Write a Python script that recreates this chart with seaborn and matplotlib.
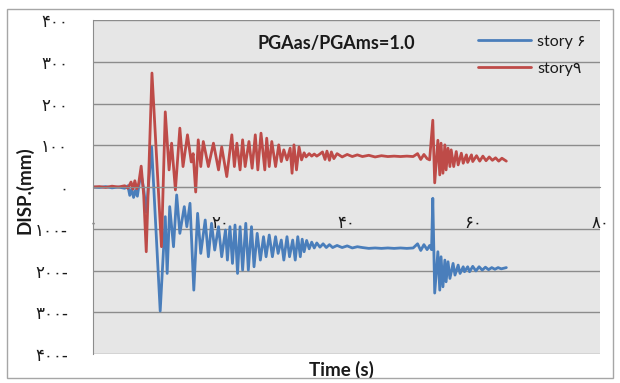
import numpy as np
import pandas as pd
import matplotlib
matplotlib.use("Agg")
import matplotlib.pyplot as plt
from matplotlib.patches import Rectangle
import seaborn as sns

# Values (time in s, displacement in mm), turning points only
story6 = [(0, 0), (1, -1), (2, 1), (3, -2), (4, 0), (5, -3), (5.5, 3), (5.8, -20), (6.1, -5),
          (6.4, -25), (6.7, -8), (7.0, -22), (7.3, 10), (7.6, 29), (8.0, -5), (8.4, -60),
          (9.25, 96), (10.6, -297), (11.4, -71), (11.7, -207), (12.1, -47), (12.7, -143),
          (13.2, -19), (13.7, -111), (14.4, -47), (14.8, -95), (15.3, -39), (15.9, -247),
          (16.5, -63), (17.0, -159), (17.7, -79), (18.2, -167), (18.7, -87), (19.2, -151),
          (19.8, -95), (20.3, -167), (20.9, -103), (21.2, -175), (21.6, -95), (22.0, -183),
          (22.4, -91), (22.8, -207), (23.2, -95), (23.6, -199), (24.1, -87), (24.5, -199),
          (25.0, -95), (25.4, -191), (25.9, -111), (26.4, -175), (26.9, -119), (27.3, -167),
          (27.8, -115), (28.3, -167), (28.8, -119), (29.2, -159), (29.7, -127), (30.1, -175),
          (30.6, -119), (31.0, -167), (31.5, -127), (31.9, -175), (32.3, -119), (32.7, -167),
          (33.0, -125), (33.3, -155), (33.7, -128), (34.1, -148), (34.5, -132), (34.9, -146),
          (35.3, -134), (35.8, -144), (36.3, -136), (36.8, -145), (37.3, -138), (37.8, -145),
          (38.5, -140), (39.3, -145), (40.1, -141), (40.9, -146), (41.7, -143), (42.5, -145),
          (43.5, -147), (44.5, -146), (45.5, -147), (46.5, -146), (47.5, -147), (48.5, -146),
          (49.5, -147), (50.5, -146), (51.2, -136), (51.7, -152), (52.2, -138), (52.7, -150),
          (53.1, -140), (53.4, -150), (53.6, -27), (53.9, -254), (54.4, -155), (54.7, -247),
          (54.9, -167), (55.2, -239), (55.5, -175), (55.7, -227), (56.0, -179), (56.3, -219),
          (56.8, -183), (57.1, -211), (57.6, -187), (57.9, -207), (58.4, -191), (58.6, -203),
          (59.1, -191), (59.4, -203), (59.9, -190), (60.4, -201), (60.9, -191), (61.4, -199),
          (61.9, -192), (62.4, -198), (62.9, -193), (63.4, -197), (63.9, -193), (64.4, -196),
          (65.2, -193)]

story9 = [(0, 0), (1, 1), (2, -1), (3, 2), (4, 0), (5, 3), (5.5, -3), (6.0, 12), (6.3, -5),
          (6.6, 15), (6.9, -4), (7.2, 8), (7.6, 50), (8.0, -20), (8.4, -155), (9.3, 273),
          (10.8, -143), (11.4, 180), (12.0, 41), (12.4, 105), (13.0, -7), (13.7, 141),
          (14.2, 49), (14.9, 125), (15.5, 60), (15.8, 80), (16.2, -12), (16.6, 113), (17.0, 49),
          (17.4, 109), (18.2, 49), (19.0, 105), (19.8, 41), (20.3, 96), (21.1, 25), (21.9, 125),
          (22.3, 49), (22.7, 105), (23.2, 41), (23.6, 113), (24.0, 49), (24.6, 109), (25.1, 45),
          (25.6, 125), (26.0, 41), (26.5, 129), (27.1, 41), (27.4, 117), (27.8, 49), (28.2, 109),
          (28.8, 49), (29.3, 101), (29.7, 61), (30.1, 89), (30.6, 65), (31.1, 93), (31.4, 33),
          (31.7, 101), (32.1, 41), (32.5, 96), (32.9, 65), (33.3, 82), (33.6, 72), (34.1, 80),
          (34.5, 74), (34.9, 79), (35.3, 74), (35.7, 78), (36.2, 84), (36.6, 66), (36.9, 86),
          (37.3, 64), (37.6, 84), (38.0, 68), (38.5, 80), (39.3, 72), (40.1, 78), (40.9, 73),
          (41.7, 77), (42.5, 73), (43.5, 76), (44.5, 72), (45.5, 75), (46.5, 73), (47.5, 74),
          (48.5, 73), (49.5, 74), (50.5, 73), (51.2, 80), (51.7, 66), (52.2, 78), (52.7, 68),
          (53.1, 65), (53.6, 160), (53.9, 10), (54.4, 112), (54.7, 29), (54.9, 105), (55.2, 33),
          (55.5, 101), (55.7, 41), (56.0, 93), (56.3, 49), (56.5, 89), (56.9, 49), (57.3, 85),
          (57.6, 53), (58.1, 81), (58.4, 57), (58.9, 77), (59.1, 59), (59.7, 77), (59.9, 61),
          (60.5, 75), (61.0, 62), (61.5, 74), (62.0, 63), (62.5, 72), (63.0, 64), (63.5, 70),
          (64.0, 62), (64.5, 69), (65.2, 62)]

x_ticks = [0, 20, 40, 60, 80]
x_labels = ["۰", "۲۰", "۴۰", "۶۰", "۸۰"]
y_ticks = [400, 300, 200, 100, 0, -100, -200, -300, -400]
y_labels = ["۴۰۰", "۳۰۰", "۲۰۰", "۱۰۰", "۰", "۱۰۰-", "۲۰۰-", "۳۰۰-", "۴۰۰-"]
series_names = ["story ۶", "story۹"]

sns.set_style("white")
plt.rcParams["font.family"] = ["Lato", "DejaVu Sans"]

blue = "#4A7EBB"
red = "#BE4B48"
grid_col = "#8C8C8C"
txt = "#1A1A1A"

fig = plt.figure(figsize=(6.2, 3.83), dpi=100)
ax = fig.add_axes([0.15, 0.0757, 0.818, 0.872])
ax.set_facecolor("#E6E6E6")

df6 = pd.DataFrame(story6, columns=["time", "disp"])
df9 = pd.DataFrame(story9, columns=["time", "disp"])
sns.lineplot(data=df6, x="time", y="disp", ax=ax, color=blue, lw=2.0,
             label=series_names[0], estimator=None, sort=False)
sns.lineplot(data=df9, x="time", y="disp", ax=ax, color=red, lw=2.0,
             label=series_names[1], estimator=None, sort=False)

ax.set_xlim(0, 80)
ax.set_ylim(-400, 400)
ax.set_yticks(y_ticks, y_labels, family=["DejaVu Sans"])
ax.set_xticks(x_ticks, x_labels, family=["DejaVu Sans"])
ax.grid(axis="y", color=grid_col, lw=1)
ax.grid(axis="x", visible=False)
ax.set_axisbelow(True)

for s in ["top", "right"]:
    ax.spines[s].set_visible(False)
ax.spines["left"].set_color(grid_col)
ax.spines["bottom"].set_color(grid_col)
ax.spines["bottom"].set_position(("data", 0))

ax.tick_params(axis="y", length=5, pad=13, color=grid_col, labelsize=12, labelcolor=txt)
ax.tick_params(axis="x", length=5, pad=15, color=grid_col, labelsize=12, labelcolor=txt)

ax.set_ylabel("DISP.(mm)", fontweight="bold", fontsize=13.5, color=txt)
ax.yaxis.set_label_coords(-0.118, 0.49)
ax.set_xlabel("Time (s)", fontweight="bold", fontsize=13.5, color=txt)
ax.xaxis.set_label_coords(0.49, -0.02)

ax.text(0.48, 0.93, "PGAas/PGAms=1.0", transform=ax.transAxes, ha="center", va="center",
        fontweight="bold", fontsize=13, color=txt)

ax.legend(loc="upper right", bbox_to_anchor=(1.0, 1.0), frameon=False,
          handlelength=3.3, labelspacing=0.8, handletextpad=0.4, fontsize=11.5,
          labelcolor=txt)

fig.patches.append(Rectangle((7 / 620, 5 / 383), 606 / 620, 369 / 383,
                             transform=fig.transFigure, fill=False,
                             ec="#A6A6A6", lw=1))

fig.savefig("out.png", dpi=100)
